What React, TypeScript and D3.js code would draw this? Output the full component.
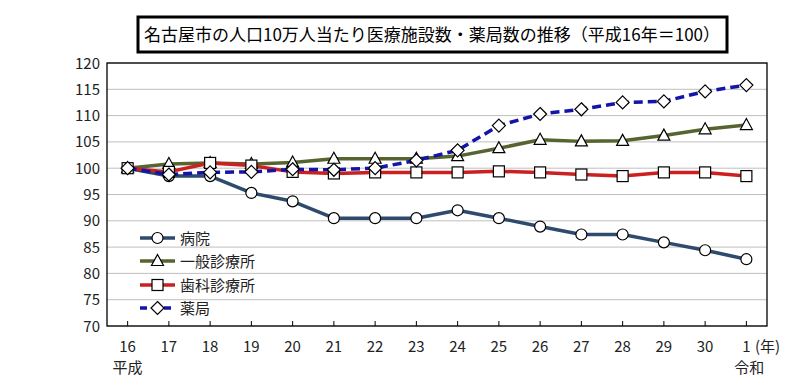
import React from "react";
import * as d3 from "d3";

const years = ["16", "17", "18", "19", "20", "21", "22", "23", "24", "25", "26", "27", "28", "29", "30", "1"];
const yTicks = [70, 75, 80, 85, 90, 95, 100, 105, 110, 115, 120];

const hospital = [100, 98.5, 98.5, 95.3, 93.7, 90.5, 90.5, 90.5, 92.0, 90.5, 88.9, 87.4, 87.4, 85.9, 84.4, 82.7];
const clinic = [100, 100.8, 101.0, 100.8, 101.1, 101.8, 101.8, 101.8, 102.3, 103.8, 105.4, 105.1, 105.2, 106.2, 107.4, 108.2];
const dental = [100, 99.3, 101.0, 100.5, 99.3, 99.0, 99.2, 99.2, 99.2, 99.4, 99.2, 98.8, 98.5, 99.2, 99.2, 98.5];
const pharmacy = [100, 98.8, 99.2, 99.3, 99.8, 99.7, 100.0, 101.5, 103.4, 108.1, 110.3, 111.2, 112.5, 112.7, 114.6, 115.8];

const seriesNames = ["病院", "一般診療所", "歯科診療所", "薬局"];
const seriesColors = ["#2E4B6E", "#56652F", "#CC1F1F", "#1414A8"];
const seriesMarkers = ["circle", "triangle", "square", "diamond"];
const seriesData = [hospital, clinic, dental, pharmacy];

const W = 793, H = 379;
const L = 107, R = 767, T = 63, B = 326;
const FONT = "'Noto Sans CJK JP', 'Noto Sans', sans-serif";

function Marker({ type, x, y }: { type: string; x: number; y: number }) {
  const common = { fill: "#fff", stroke: "#000", strokeWidth: 1.2 };
  if (type === "circle") return <circle cx={x} cy={y} r={5.5} {...common} />;
  if (type === "square") return <rect x={x - 5.5} y={y - 5.5} width={11} height={11} {...common} />;
  if (type === "triangle")
    return <path d={`M${x},${y - 6.5}L${x + 6},${y + 4.5}L${x - 6},${y + 4.5}Z`} {...common} />;
  return <path d={`M${x},${y - 6.5}L${x + 6.5},${y}L${x},${y + 6.5}L${x - 6.5},${y}Z`} {...common} />;
}

export default function App() {
  const x = d3.scalePoint<string>().domain(years).range([L, R]).padding(0.5);
  const y = d3.scaleLinear().domain([70, 120]).range([B, T]);
  const line = d3.line<number>().x((_, i) => x(years[i])!).y((d) => y(d));

  const legendY = [238, 261, 285, 308];

  return (
    <div style={{ position: "absolute", left: 0, top: 0 }}>
      <svg width={W} height={H} style={{ display: "block", background: "#fff" }} fontFamily={FONT}>
        <rect x={0} y={0} width={W} height={H} fill="#fff" />
        {/* title */}
        <rect x={138} y={17} width={589} height={35} fill="#fff" stroke="#000" strokeWidth={3} />
        <text x={432} y={41} textAnchor="middle" fontSize={17} fill="#000">
          名古屋市の人口10万人当たり医療施設数・薬局数の推移（平成16年＝100）
        </text>
        {/* grid */}
        {yTicks.map((t) => (
          <line key={t} x1={L} x2={R} y1={y(t)} y2={y(t)} stroke="#BFBFBF" strokeWidth={1} />
        ))}
        <rect x={L} y={T} width={R - L} height={B - T} fill="none" stroke="#000" strokeWidth={1.3} />
        {/* y labels */}
        {yTicks.map((t) => (
          <text key={t} x={100} y={y(t) + 5.5} textAnchor="end" fontSize={15} fill="#222">
            {t}
          </text>
        ))}
        {/* x ticks & labels */}
        {years.map((yr) => (
          <g key={yr}>
            <line x1={x(yr)} x2={x(yr)} y1={B} y2={B - 5} stroke="#000" strokeWidth={1} />
            <text x={x(yr)} y={352} textAnchor="middle" fontSize={15} fill="#222">
              {yr}
            </text>
          </g>
        ))}
        <text x={x("16")} y={373} textAnchor="middle" fontSize={15} fill="#222">平成</text>
        <text x={x("1")! + 3} y={373} textAnchor="middle" fontSize={15} fill="#222">令和</text>
        <text x={755} y={352} textAnchor="start" fontSize={15} fill="#222">(年)</text>
        {/* series lines */}
        {seriesData.map((d, i) => (
          <path
            key={i}
            d={line(d)!}
            fill="none"
            stroke={seriesColors[i]}
            strokeWidth={3.5}
            strokeDasharray={i === 3 ? "9,5" : undefined}
            strokeLinejoin="round"
          />
        ))}
        {seriesData.map((d, i) => (
          <g key={i}>
            {d.map((v, j) => (
              <Marker key={j} type={seriesMarkers[i]} x={x(years[j])!} y={y(v)} />
            ))}
          </g>
        ))}
        {/* legend */}
        {seriesNames.map((n, i) => (
          <g key={n}>
            <line
              x1={140}
              x2={175}
              y1={legendY[i]}
              y2={legendY[i]}
              stroke={seriesColors[i]}
              strokeWidth={3.5}
              strokeDasharray={i === 3 ? "7,5" : undefined}
            />
            <Marker type={seriesMarkers[i]} x={157.5} y={legendY[i]} />
            <text x={180} y={legendY[i] + 5.5} fontSize={15} fill="#222">
              {n}
            </text>
          </g>
        ))}
      </svg>
    </div>
  );
}
